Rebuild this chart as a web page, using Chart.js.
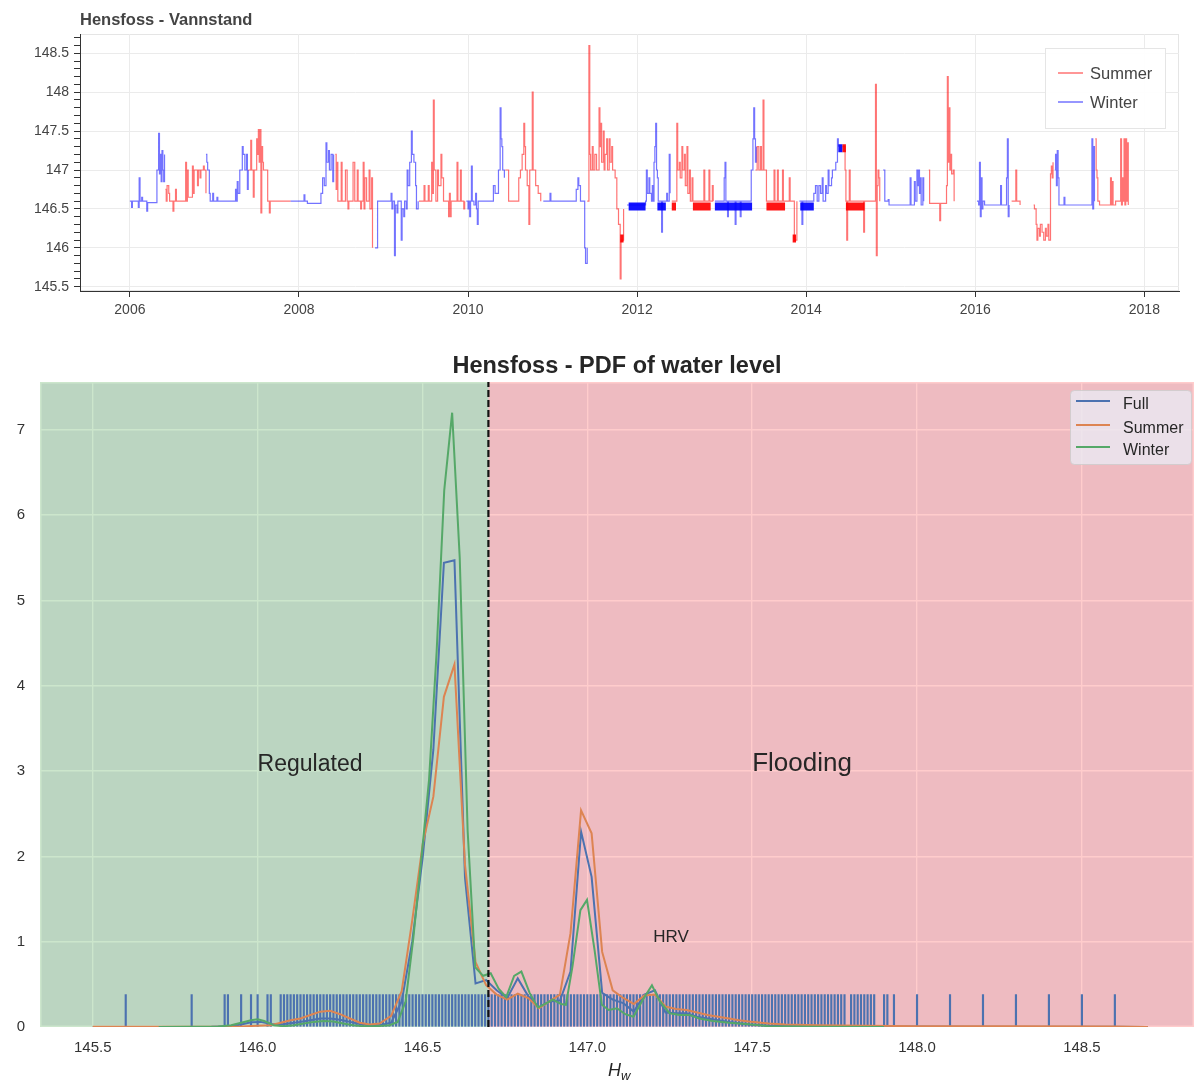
<!DOCTYPE html>
<html>
<head>
<meta charset="utf-8">
<title>Hensfoss - Vannstand</title>
<script src="https://cdn.jsdelivr.net/npm/chart.js@4.4.1/dist/chart.umd.min.js"></script>
<style>
  html, body { margin: 0; padding: 0; background: #fff; }
  canvas { display: block; }
</style>
</head>
<body>
<canvas id="levelChart" width="1194" height="340"></canvas>
<canvas id="pdfChart" width="1194" height="741"></canvas>
<script>
/* ---- water level time series (decimal year, level in m) ---- */

const summerLevel = [
  [2006.42, 146.75], [2006.43, 146.60], [2006.44, 146.80], [2006.46, 146.70], [2006.47, 146.60], [2006.51, 146.47],
  [2006.52, 146.60], [2006.54, 146.75], [2006.55, 146.60], [2006.66, 147.10], [2006.67, 146.60], [2006.68, 147.00],
  [2006.69, 146.65], [2006.74, 147.05], [2006.75, 146.70], [2006.76, 147.00], [2006.80, 146.80], [2006.81, 147.00],
  [2006.83, 146.90], [2006.84, 147.00], [2006.87, 147.05], [2006.88, 147.00], [2006.90, 146.70], [2006.91, null],

  [2007.40, 147.00], [2007.43, 147.38], [2007.44, 147.00], [2007.46, 146.65], [2007.47, 147.00], [2007.50, 147.40],
  [2007.51, 147.20], [2007.52, 147.52], [2007.53, 147.10], [2007.54, 147.52], [2007.55, 146.45], [2007.56, 147.30],
  [2007.57, 147.10], [2007.58, 147.00], [2007.62, 147.00], [2007.63, 146.60], [2007.65, 146.45], [2007.66, 146.60],
  [2007.90, 146.60], [2007.91, null],

  [2008.43, 147.20], [2008.44, 146.75], [2008.45, 147.10], [2008.46, 146.60], [2008.50, 147.10], [2008.51, 146.60],
  [2008.55, 147.00], [2008.57, 146.60], [2008.58, 146.50], [2008.59, 146.60], [2008.64, 147.10], [2008.66, 146.60],
  [2008.69, 147.00], [2008.70, 146.60], [2008.73, 146.50], [2008.74, 146.60], [2008.76, 147.10], [2008.77, 146.50],
  [2008.78, 146.90], [2008.80, 146.60], [2008.83, 147.00], [2008.84, 146.50], [2008.86, 146.90], [2008.87, 146.00],
  [2008.91, null],

  [2009.42, 146.60], [2009.48, 146.80], [2009.49, 146.60], [2009.53, 146.80], [2009.54, 146.60], [2009.57, 147.10],
  [2009.58, 146.70], [2009.59, 147.90], [2009.60, 147.00], [2009.62, 146.60], [2009.64, 147.00], [2009.65, 146.80],
  [2009.68, 147.20], [2009.69, 146.90], [2009.71, 146.60], [2009.77, 146.40], [2009.78, 146.70], [2009.79, 146.40],
  [2009.80, 146.60], [2009.87, 147.10], [2009.88, 146.60], [2009.91, 147.00], [2009.92, 146.60], [2009.95, 146.50],
  [2009.96, 146.60], [2009.99, null],

  [2010.44, 147.00], [2010.48, 146.60], [2010.60, 146.90], [2010.62, 147.00], [2010.64, 147.20], [2010.66, 147.60],
  [2010.67, 147.30], [2010.68, 147.00], [2010.70, 146.80], [2010.72, 146.30], [2010.73, 147.00], [2010.76, 148.00],
  [2010.77, 147.00], [2010.80, 146.80], [2010.83, 146.70], [2010.86, 146.60], [2010.89, null],

  [2011.41, 146.60], [2011.43, 148.60], [2011.44, 147.20], [2011.45, 147.00], [2011.47, 147.30], [2011.48, 147.00],
  [2011.50, 147.20], [2011.52, 147.00], [2011.55, 147.80], [2011.56, 147.30], [2011.57, 147.60], [2011.58, 147.10],
  [2011.60, 147.50], [2011.61, 147.00], [2011.62, 147.20], [2011.64, 147.40], [2011.65, 147.00], [2011.67, 147.40],
  [2011.68, 147.10], [2011.70, 147.30], [2011.71, 147.00], [2011.74, 146.90], [2011.76, 146.50], [2011.78, 146.30],
  [2011.80, 145.60], [2011.81, 146.10], [2011.84, 146.50], [2011.87, null],

  [2012.41, 146.60], [2012.47, 147.60], [2012.48, 147.00], [2012.50, 147.10], [2012.51, 146.90], [2012.53, 147.30],
  [2012.54, 147.00], [2012.56, 147.20], [2012.57, 146.80], [2012.59, 147.30], [2012.60, 146.70], [2012.62, 147.00],
  [2012.63, 146.60], [2012.65, 146.90], [2012.66, 146.60], [2012.79, 147.00], [2012.80, 146.60], [2012.85, 147.00],
  [2012.86, 146.60], [2012.89, 146.80], [2012.90, 146.60], [2012.92, null],

  [2013.40, 147.00], [2013.42, 147.30], [2013.44, 147.00], [2013.46, 147.30], [2013.47, 147.00], [2013.49, 147.90],
  [2013.50, 147.00], [2013.53, 146.60], [2013.62, 147.00], [2013.63, 146.60], [2013.66, 147.00], [2013.67, 146.60],
  [2013.72, 147.00], [2013.73, 146.60], [2013.80, 146.90], [2013.81, 146.60], [2013.86, 146.10], [2013.89, 146.60],
  [2013.90, null],

  [2014.43, 147.30], [2014.46, 147.00], [2014.47, 146.60], [2014.48, 146.10], [2014.49, 146.60], [2014.51, 147.00],
  [2014.52, 146.60], [2014.68, 146.20], [2014.69, 146.60], [2014.80, 146.60], [2014.82, 148.10], [2014.83, 145.90],
  [2014.84, 146.80], [2014.85, 147.00], [2014.86, 146.90], [2014.87, 146.60], [2014.91, null],

  [2015.45, 147.00], [2015.46, 146.57], [2015.58, 146.35], [2015.59, 146.57], [2015.66, 146.80], [2015.67, 148.20],
  [2015.68, 147.10], [2015.69, 147.80], [2015.70, 147.00], [2015.71, 147.20], [2015.72, 146.95], [2015.74, 147.00],
  [2015.75, 146.60], [2015.98, null],

  [2016.43, 146.60], [2016.48, 147.00], [2016.49, 146.60], [2016.53, 146.55], [2016.55, null],
  [2016.59, 146.55], [2016.60, null], [2016.64, 146.55], [2016.65, null],
  [2016.69, 146.55], [2016.70, 146.50], [2016.72, 146.30], [2016.73, 146.10], [2016.74, 146.25], [2016.76, 146.15],
  [2016.77, 146.30], [2016.79, 146.20], [2016.81, 146.10], [2016.83, 146.25], [2016.84, 146.15], [2016.86, 146.30],
  [2016.87, 146.10], [2016.89, 146.95], [2016.90, 147.05], [2016.91, 146.90], [2016.92, 147.10], [2016.94, null],

  [2017.42, 147.40], [2017.43, 147.00], [2017.44, 146.90], [2017.45, 146.60], [2017.47, 146.55], [2017.60, 146.90],
  [2017.61, 146.55], [2017.62, 146.85], [2017.63, 146.55], [2017.66, 146.60], [2017.72, 147.40], [2017.73, 146.55],
  [2017.74, 146.90], [2017.75, 146.60], [2017.76, 147.40], [2017.77, 146.55], [2017.78, 147.40], [2017.79, 146.60],
  [2017.80, 147.35], [2017.81, 146.55], [2017.82, null]
];

const winterLevel = [
  [2006.00, 146.60], [2006.02, 146.52], [2006.03, 146.60], [2006.10, 146.52], [2006.11, 146.90], [2006.12, 146.60],
  [2006.14, 146.65], [2006.15, 146.60], [2006.20, 146.47], [2006.21, 146.58], [2006.32, 147.00], [2006.34, 147.47],
  [2006.35, 146.95], [2006.36, 147.20], [2006.37, 146.85], [2006.38, 147.25], [2006.39, 147.00], [2006.40, 146.85],
  [2006.41, 147.20], [2006.42, null],

  [2006.90, 147.20], [2006.91, 147.10], [2006.92, 147.00], [2006.94, 146.70], [2006.95, 146.60], [2006.98, 146.70],
  [2006.99, 146.60], [2007.03, 146.65], [2007.04, 146.60], [2007.25, 146.75], [2007.26, 146.60], [2007.27, 146.85],
  [2007.28, 146.70], [2007.30, 147.00], [2007.33, 147.30], [2007.34, 147.20], [2007.36, 147.00], [2007.38, 147.20],
  [2007.39, 146.75], [2007.40, 147.00], [2007.42, null],

  [2007.90, 146.60], [2008.06, 146.68], [2008.07, 146.60], [2008.10, 146.57], [2008.25, 146.57], [2008.26, 146.70],
  [2008.28, 146.90], [2008.30, 146.80], [2008.32, 147.35], [2008.33, 147.10], [2008.35, 147.25], [2008.36, 147.00],
  [2008.38, 147.20], [2008.40, 146.85], [2008.41, 147.20], [2008.44, null],

  [2008.90, 146.00], [2008.93, 146.60], [2009.09, 146.70], [2009.10, 146.50], [2009.11, 146.60], [2009.13, 145.90],
  [2009.14, 146.55], [2009.16, 146.45], [2009.17, 146.60], [2009.21, 146.10], [2009.22, 146.50], [2009.24, 146.40],
  [2009.25, 146.60], [2009.27, 146.50], [2009.28, 147.00], [2009.29, 146.80], [2009.31, 147.10], [2009.33, 147.50],
  [2009.34, 147.20], [2009.36, 147.10], [2009.38, 146.80], [2009.39, 146.50], [2009.41, 146.60], [2009.43, null],

  [2009.98, 146.60], [2010.00, 146.50], [2010.01, 146.60], [2010.02, 146.40], [2010.03, 146.60], [2010.04, 147.05],
  [2010.05, 146.60], [2010.07, 146.55], [2010.09, 146.70], [2010.10, 146.50], [2010.11, 146.30], [2010.12, 146.60],
  [2010.30, 146.80], [2010.32, 146.70], [2010.36, 147.00], [2010.38, 147.80], [2010.39, 147.40], [2010.40, 147.30],
  [2010.41, 147.00], [2010.43, 146.90], [2010.44, null],

  [2010.89, 146.60], [2010.97, 146.70], [2010.98, 146.60], [2011.28, 146.75], [2011.30, 146.90], [2011.31, 146.80],
  [2011.33, 146.60], [2011.38, 146.00], [2011.39, 145.80], [2011.41, 146.00], [2011.42, null],

  [2011.88, 146.55], [2012.10, 146.60], [2012.11, 147.00], [2012.12, 146.70], [2012.14, 146.90], [2012.15, 146.70],
  [2012.17, 146.60], [2012.18, 146.80], [2012.19, 146.60], [2012.20, 147.10], [2012.21, 147.30], [2012.22, 147.60],
  [2012.23, 147.00], [2012.24, 146.90], [2012.25, 146.60], [2012.29, 146.20], [2012.30, 146.60], [2012.35, 146.70],
  [2012.36, 146.60], [2012.38, 147.20], [2012.39, 146.70], [2012.41, null],

  [2012.92, 146.60], [2013.03, 146.90], [2013.04, 147.10], [2013.05, 146.60], [2013.07, 146.40], [2013.08, 146.60],
  [2013.16, 146.30], [2013.17, 146.60], [2013.22, 146.40], [2013.23, 146.60], [2013.35, 147.00], [2013.37, 147.40],
  [2013.38, 147.80], [2013.39, 147.40], [2013.40, 147.10], [2013.41, 147.30], [2013.42, null],

  [2013.92, 146.60], [2013.95, 146.30], [2013.96, 146.60], [2014.09, 146.70], [2014.11, 146.80], [2014.13, 146.60],
  [2014.15, 146.80], [2014.17, 146.70], [2014.19, 146.90], [2014.20, 146.60], [2014.23, 146.80], [2014.24, 146.70],
  [2014.26, 147.00], [2014.27, 146.80], [2014.30, 146.90], [2014.31, 147.00], [2014.35, 147.10], [2014.37, 147.40],
  [2014.38, 147.30], [2014.44, null],

  [2014.91, 147.00], [2014.93, 146.60], [2014.97, 146.62], [2014.98, 146.55], [2015.23, 146.90], [2015.24, 146.55],
  [2015.28, 146.85], [2015.29, 146.60], [2015.31, 147.00], [2015.32, 146.80], [2015.33, 147.00], [2015.34, 146.70],
  [2015.35, 146.90], [2015.36, 146.55], [2015.38, 146.90], [2015.39, 146.60], [2015.42, null],

  [2016.02, 146.60], [2016.04, 146.55], [2016.05, 147.10], [2016.06, 146.40], [2016.07, 146.90], [2016.08, 146.50],
  [2016.09, 146.60], [2016.11, 146.55], [2016.30, 146.80], [2016.31, 146.55], [2016.37, 146.90], [2016.38, 147.40],
  [2016.39, 146.40], [2016.40, 146.55], [2016.42, null],

  [2016.94, 147.00], [2016.95, 147.20], [2016.96, 146.80], [2016.97, 147.25], [2016.98, 146.90], [2016.99, 146.55],
  [2017.05, 146.65], [2017.06, 146.55], [2017.38, 147.40], [2017.39, 146.50], [2017.40, 147.30], [2017.41, 146.60],
  [2017.42, null]
];

// periods where the level flickers between two readings (start, end, level)
const summerDense = [
  [2011.80, 2011.84, 146.12], [2012.41, 2012.46, 146.53], [2012.66, 2012.87, 146.53], [2013.53, 2013.75, 146.53],
  [2013.84, 2013.88, 146.12], [2014.43, 2014.47, 147.28], [2014.47, 2014.69, 146.53]
];
const winterDense = [
  [2011.90, 2012.10, 146.53], [2012.24, 2012.34, 146.53], [2012.92, 2013.36, 146.53], [2013.93, 2014.09, 146.53],
  [2014.38, 2014.43, 147.28]
];

const yearTicks = [2006, 2008, 2010, 2012, 2014, 2016, 2018];
const levelLabels = [145.5, 146, 146.5, 147, 147.5, 148, 148.5];

/* ---- PDF of water level (H, density) ---- */

const fullKde = [
  [145.50, 0], [145.70, 0], [145.86, 0.003], [145.92, 0.01], [145.95, 0.03], [145.98, 0.055], [146.01, 0.06],
  [146.04, 0.035], [146.07, 0.03], [146.10, 0.045], [146.13, 0.06], [146.16, 0.08], [146.19, 0.10], [146.22, 0.10],
  [146.25, 0.085], [146.28, 0.06], [146.31, 0.035], [146.34, 0.02], [146.37, 0.02], [146.405, 0.05], [146.437, 0.30],
  [146.469, 1.00], [146.501, 2.00], [146.533, 3.25], [146.565, 5.44], [146.597, 5.47], [146.629, 1.75], [146.661, 0.51],
  [146.693, 0.55], [146.725, 0.43], [146.757, 0.34], [146.789, 0.57], [146.821, 0.36], [146.853, 0.23], [146.885, 0.30],
  [146.917, 0.31], [146.949, 0.65], [146.981, 2.29], [147.013, 1.76], [147.045, 0.40], [147.077, 0.32], [147.109, 0.28],
  [147.141, 0.18], [147.173, 0.38], [147.205, 0.43], [147.237, 0.17], [147.269, 0.16], [147.301, 0.16], [147.333, 0.12],
  [147.365, 0.10], [147.397, 0.08], [147.43, 0.06], [147.46, 0.045], [147.49, 0.03], [147.55, 0.015], [147.65, 0.01],
  [147.80, 0.008], [148.00, 0.005], [148.30, 0.003], [148.60, 0.002], [148.70, 0]
];

const summerKde = [
  [145.50, 0.004], [145.80, 0.004], [145.95, 0.006], [146.00, 0.015], [146.04, 0.02], [146.07, 0.05], [146.10, 0.08],
  [146.13, 0.10], [146.16, 0.14], [146.19, 0.18], [146.22, 0.19], [146.25, 0.15], [146.28, 0.10], [146.31, 0.05],
  [146.34, 0.03], [146.37, 0.04], [146.405, 0.13], [146.437, 0.42], [146.469, 1.25], [146.501, 2.15], [146.533, 2.70],
  [146.565, 3.87], [146.597, 4.25], [146.629, 1.90], [146.661, 0.76], [146.693, 0.49], [146.725, 0.38], [146.757, 0.32],
  [146.789, 0.39], [146.821, 0.34], [146.853, 0.22], [146.885, 0.30], [146.917, 0.38], [146.949, 1.10], [146.981, 2.54],
  [147.013, 2.27], [147.045, 0.88], [147.077, 0.43], [147.109, 0.34], [147.141, 0.27], [147.173, 0.37], [147.205, 0.38],
  [147.237, 0.24], [147.269, 0.21], [147.301, 0.20], [147.333, 0.17], [147.365, 0.14], [147.397, 0.12], [147.43, 0.10],
  [147.46, 0.08], [147.49, 0.065], [147.55, 0.04], [147.60, 0.03], [147.70, 0.02], [147.85, 0.015], [148.00, 0.01],
  [148.30, 0.008], [148.60, 0.006], [148.70, 0]
];

const winterKde = [
  [145.70, 0], [145.88, 0.005], [145.92, 0.02], [145.95, 0.05], [145.98, 0.08], [146.00, 0.09], [146.02, 0.07],
  [146.05, 0.02], [146.08, 0.01], [146.11, 0.02], [146.14, 0.04], [146.17, 0.06], [146.20, 0.07], [146.23, 0.065],
  [146.26, 0.04], [146.29, 0.02], [146.32, 0.01], [146.36, 0.01], [146.40, 0.02], [146.425, 0.06], [146.449, 0.30],
  [146.4725, 1.05], [146.496, 1.95], [146.52, 2.90], [146.543, 4.40], [146.566, 6.29], [146.590, 7.20], [146.613, 5.50],
  [146.637, 2.30], [146.66, 0.70], [146.684, 0.60], [146.707, 0.63], [146.731, 0.45], [146.754, 0.35], [146.778, 0.60],
  [146.80, 0.65], [146.825, 0.40], [146.85, 0.23], [146.872, 0.27], [146.895, 0.32], [146.92, 0.27], [146.935, 0.26],
  [146.955, 0.71], [146.979, 1.37], [146.999, 1.49], [147.022, 0.90], [147.044, 0.26], [147.065, 0.20], [147.09, 0.22],
  [147.115, 0.15], [147.14, 0.12], [147.17, 0.33], [147.196, 0.49], [147.22, 0.30], [147.25, 0.16], [147.28, 0.14],
  [147.31, 0.14], [147.34, 0.10], [147.38, 0.07], [147.43, 0.05], [147.48, 0.035], [147.55, 0.01], [147.70, 0.004],
  [147.90, 0]
];

// observed levels (rug)
const rugValues = [
  145.60, 145.80, 145.90, 145.91, 145.95, 145.98, 146.00, 146.03, 146.04,
  146.07, 146.08, 146.09, 146.10, 146.11, 146.12, 146.13, 146.14, 146.15, 146.16, 146.17, 146.18, 146.19,
  146.20, 146.21, 146.22, 146.23, 146.24, 146.25, 146.26, 146.27, 146.28, 146.29, 146.30, 146.31, 146.32,
  146.33, 146.34, 146.35, 146.36, 146.37, 146.38, 146.39, 146.40, 146.41, 146.42, 146.43, 146.44, 146.45,
  146.46, 146.47, 146.48, 146.49, 146.50, 146.51, 146.52, 146.53, 146.54, 146.55, 146.56, 146.57,
  146.58, 146.59, 146.60, 146.61, 146.62, 146.63, 146.64, 146.65, 146.66, 146.67, 146.68, 146.69,
  146.70, 146.71, 146.72, 146.73, 146.74, 146.75, 146.76, 146.77, 146.78, 146.79, 146.80, 146.81,
  146.82, 146.83, 146.84, 146.85, 146.86, 146.87, 146.88, 146.89, 146.90, 146.91, 146.92, 146.93,
  146.94, 146.95, 146.96, 146.97, 146.98, 146.99, 147.00, 147.01, 147.02, 147.03, 147.04, 147.05,
  147.06, 147.07, 147.08, 147.09, 147.10, 147.11, 147.12, 147.13, 147.14, 147.15, 147.16, 147.17,
  147.18, 147.19, 147.20, 147.21, 147.22, 147.23, 147.24, 147.25, 147.26, 147.27, 147.28, 147.29,
  147.30, 147.31, 147.32, 147.33, 147.34, 147.35, 147.36, 147.37, 147.38, 147.39, 147.40, 147.41,
  147.42, 147.43, 147.44, 147.45, 147.46, 147.47, 147.48, 147.49, 147.50, 147.51, 147.52, 147.53,
  147.54, 147.55, 147.56, 147.57, 147.58, 147.59, 147.60, 147.61, 147.62, 147.63, 147.64, 147.65, 147.66, 147.67,
  147.68, 147.69, 147.70, 147.71, 147.72, 147.73, 147.74, 147.75, 147.76, 147.77, 147.78, 147.80, 147.81,
  147.82, 147.83, 147.84, 147.85, 147.86, 147.87,
  147.90, 147.91, 147.93, 148.00, 148.10, 148.20, 148.30, 148.40, 148.50, 148.60
];

const threshold = 146.7;
const pdfTicksX = [145.5, 146.0, 146.5, 147.0, 147.5, 148.0, 148.5];
const pdfTicksY = [0, 1, 2, 3, 4, 5, 6, 7];
const zoneLabels = [
  { text: 'Regulated', x: 146.0, y: 3.0, size: 23 },
  { text: 'Flooding', x: 147.5, y: 3.0, size: 26 },
  { text: 'HRV', x: 147.2, y: 1.0, size: 17 }
];

/* ---- helpers ---- */

const fontFamily = "'Liberation Sans', Arial, Helvetica, sans-serif";
Chart.defaults.font.family = fontFamily;

function toXY(pairs) {
  return pairs.map(p => ({ x: p[0], y: p[1] }));
}

function denseToXY(list) {
  const out = [];
  list.forEach(b => {
    out.push({ x: b[0], y: b[2] }, { x: b[1], y: b[2] }, { x: b[1], y: null });
  });
  return out;
}

function roundRect(ctx, x, y, w, h, r) {
  ctx.beginPath();
  ctx.moveTo(x + r, y);
  ctx.lineTo(x + w - r, y);
  ctx.arcTo(x + w, y, x + w, y + r, r);
  ctx.lineTo(x + w, y + h - r);
  ctx.arcTo(x + w, y + h, x + w - r, y + h, r);
  ctx.lineTo(x + r, y + h);
  ctx.arcTo(x, y + h, x, y + h - r, r);
  ctx.lineTo(x, y + r);
  ctx.arcTo(x, y, x + r, y, r);
  ctx.closePath();
}

/* ---- top chart : Vannstand ---- */

const levelDecor = {
  id: 'levelDecor',
  beforeDraw(chart) {
    const { ctx, chartArea: a } = chart;
    ctx.save();
    ctx.fillStyle = '#fff';
    ctx.fillRect(0, 0, chart.width, chart.height);
    ctx.strokeStyle = '#e5e5e5';
    ctx.lineWidth = 1;
    ctx.strokeRect(a.left + 0.5, a.top + 0.5, a.right - a.left - 1, a.bottom - a.top - 1);
    ctx.restore();
  },
  afterDraw(chart) {
    const ctx = chart.ctx;
    ctx.save();
    ctx.fillStyle = '#444';
    ctx.font = 'bold 16.5px ' + fontFamily;
    ctx.textBaseline = 'alphabetic';
    ctx.fillText('Hensfoss - Vannstand', 80, 25);

    // legend
    ctx.fillStyle = 'rgba(255,255,255,0.95)';
    ctx.fillRect(1045, 48, 120, 80);
    ctx.strokeStyle = '#e5e5e5';
    ctx.lineWidth = 1;
    ctx.strokeRect(1045.5, 48.5, 120, 80);
    const rows = [73, 102];
    chart.data.datasets.slice(0, 2).forEach((ds, i) => {
      ctx.strokeStyle = ds.borderColor;
      ctx.lineWidth = 1.5;
      ctx.beginPath();
      ctx.moveTo(1058, rows[i]);
      ctx.lineTo(1083, rows[i]);
      ctx.stroke();
      ctx.fillStyle = '#444';
      ctx.font = '16.5px ' + fontFamily;
      ctx.fillText(ds.label, 1090, rows[i] + 6);
    });
    ctx.restore();
  }
};

const isLevelLabel = v => levelLabels.some(l => Math.abs(l - v) < 1e-6);

new Chart(document.getElementById('levelChart'), {
  type: 'line',
  data: {
    datasets: [
      { label: 'Summer', data: toXY(summerLevel), borderColor: 'rgba(255,0,0,0.55)', borderWidth: 1.2,
        stepped: true, pointRadius: 0, spanGaps: false },
      { label: 'Winter', data: toXY(winterLevel), borderColor: 'rgba(0,0,255,0.55)', borderWidth: 1.2,
        stepped: true, pointRadius: 0, spanGaps: false },
      { label: 'Summer dense', data: denseToXY(summerDense), borderColor: 'rgba(255,0,0,0.92)', borderWidth: 8,
        borderCapStyle: 'butt', pointRadius: 0 },
      { label: 'Winter dense', data: denseToXY(winterDense), borderColor: 'rgba(0,0,255,0.92)', borderWidth: 8,
        borderCapStyle: 'butt', pointRadius: 0 }
    ]
  },
  options: {
    responsive: false,
    animation: false,
    events: [],
    layout: { padding: { top: 34, right: 15, left: 0, bottom: 0 } },
    plugins: { legend: { display: false }, tooltip: { enabled: false } },
    scales: {
      x: {
        type: 'linear',
        min: 2005.41,
        max: 2018.41,
        afterBuildTicks: s => { s.ticks = yearTicks.map(v => ({ value: v })); },
        afterFit: s => { s.height = 49; },
        grid: { color: '#ebebeb', tickColor: '#333', tickLength: 6 },
        border: { color: '#333', width: 1 },
        ticks: { callback: v => String(v), color: '#444', font: { size: 14 }, padding: 5, maxRotation: 0, autoSkip: false }
      },
      y: {
        type: 'linear',
        min: 145.445,
        max: 148.748,
        afterBuildTicks: s => {
          const t = [];
          for (let k = 1455; k <= 1487; k++) t.push({ value: k / 10 });
          s.ticks = t;
        },
        afterFit: s => { s.width = 80; },
        grid: {
          color: c => (c.tick && isLevelLabel(c.tick.value) ? '#ebebeb' : 'rgba(0,0,0,0)'),
          tickColor: '#333',
          tickLength: 6
        },
        border: { color: '#333', width: 1 },
        ticks: {
          callback: v => (isLevelLabel(v) ? String(+v.toFixed(1)) : ''),
          color: '#444', font: { size: 14 }, padding: 5, autoSkip: false
        }
      }
    }
  },
  plugins: [levelDecor]
});

/* ---- bottom chart : PDF of water level ---- */

const rugHeight = 0.38;
const pdfYMax = 7.56;

const pdfDecor = {
  id: 'pdfDecor',
  beforeDraw(chart) {
    const { ctx, chartArea: a } = chart;
    ctx.save();
    ctx.fillStyle = '#fff';
    ctx.fillRect(0, 0, chart.width, chart.height);
    ctx.fillStyle = '#EAEAF2';
    ctx.fillRect(a.left, a.top, a.right - a.left, a.bottom - a.top);
    ctx.restore();
  },
  beforeDatasetsDraw(chart) {
    const { ctx, chartArea: a, scales } = chart;
    const xt = scales.x.getPixelForValue(threshold);
    ctx.save();
    ctx.strokeStyle = '#fff';
    ctx.lineWidth = 1.5;
    ctx.strokeRect(a.left + 0.75, a.top + 0.75, a.right - a.left - 1.5, a.bottom - a.top - 1.5);
    ctx.fillStyle = 'rgba(0,128,0,0.2)';
    ctx.fillRect(a.left, a.top, xt - a.left, a.bottom - a.top);
    ctx.fillStyle = 'rgba(255,0,0,0.2)';
    ctx.fillRect(xt, a.top, a.right - xt, a.bottom - a.top);
    ctx.restore();
  },
  afterDatasetsDraw(chart) {
    const { ctx, scales } = chart;
    ctx.save();
    ctx.fillStyle = '#262626';
    ctx.textBaseline = 'alphabetic';
    ctx.textAlign = 'left';
    zoneLabels.forEach(l => {
      ctx.font = l.size + 'px ' + fontFamily;
      ctx.fillText(l.text, scales.x.getPixelForValue(l.x), scales.y.getPixelForValue(l.y));
    });
    ctx.restore();
  },
  afterDraw(chart) {
    const { ctx, chartArea: a } = chart;
    ctx.save();
    // title
    ctx.fillStyle = '#262626';
    ctx.font = 'bold 23.5px ' + fontFamily;
    ctx.textAlign = 'center';
    ctx.textBaseline = 'alphabetic';
    ctx.fillText('Hensfoss - PDF of water level', (a.left + a.right) / 2, 33);

    // x label H_w
    ctx.textAlign = 'left';
    ctx.font = 'italic 18px ' + fontFamily;
    ctx.fillText('H', 608, 736);
    ctx.font = 'italic 13px ' + fontFamily;
    ctx.fillText('w', 621, 740);

    // legend
    roundRect(ctx, 1070.5, 50.5, 121, 74, 4);
    ctx.fillStyle = 'rgba(234,234,242,0.8)';
    ctx.fill();
    ctx.strokeStyle = 'rgba(204,204,204,0.8)';
    ctx.lineWidth = 1;
    ctx.stroke();
    const items = chart.data.datasets.filter(d => d.showInLegend);
    const rows = [61, 85, 107];
    items.forEach((ds, i) => {
      ctx.strokeStyle = ds.borderColor;
      ctx.lineWidth = 2.2;
      ctx.beginPath();
      ctx.moveTo(1076, rows[i]);
      ctx.lineTo(1110, rows[i]);
      ctx.stroke();
      ctx.fillStyle = '#262626';
      ctx.font = '16px ' + fontFamily;
      ctx.fillText(ds.label, 1123, rows[i] + 8);
    });
    ctx.restore();
  }
};

new Chart(document.getElementById('pdfChart'), {
  type: 'line',
  data: {
    datasets: [
      { type: 'bar', label: 'rug', data: rugValues.map(v => ({ x: v, y: rugHeight })),
        backgroundColor: '#4C72B0', barThickness: 1.5, order: 5 },
      { label: 'Full', data: toXY(fullKde), borderColor: '#4C72B0', borderWidth: 2, pointRadius: 0, order: 3, showInLegend: true },
      { label: 'Summer', data: toXY(summerKde), borderColor: '#DD8452', borderWidth: 2, pointRadius: 0, order: 2, showInLegend: true },
      { label: 'Winter', data: toXY(winterKde), borderColor: '#55A868', borderWidth: 2, pointRadius: 0, order: 1, showInLegend: true },
      { label: 'threshold', data: [{ x: threshold, y: 0 }, { x: threshold, y: pdfYMax }], borderColor: '#111',
        borderWidth: 2.2, borderDash: [7, 3], pointRadius: 0, order: 0 }
    ]
  },
  options: {
    responsive: false,
    animation: false,
    events: [],
    layout: { padding: { top: 42, right: 0, left: 0, bottom: 0 } },
    plugins: { legend: { display: false }, tooltip: { enabled: false } },
    scales: {
      x: {
        type: 'linear',
        offset: false,
        min: 145.34,
        max: 148.84,
        afterBuildTicks: s => { s.ticks = pdfTicksX.map(v => ({ value: v })); },
        afterFit: s => { s.height = 54; },
        grid: { color: '#fff', lineWidth: 1.4, drawTicks: false, offset: false },
        border: { display: false },
        ticks: { callback: v => v.toFixed(1), color: '#333', font: { size: 15 }, padding: 12, maxRotation: 0, autoSkip: false }
      },
      y: {
        type: 'linear',
        min: 0,
        max: pdfYMax,
        afterBuildTicks: s => { s.ticks = pdfTicksY.map(v => ({ value: v })); },
        afterFit: s => { s.width = 40; },
        grid: { color: '#fff', lineWidth: 1.4, drawTicks: false },
        border: { display: false },
        ticks: { callback: v => String(v), color: '#333', font: { size: 15 }, padding: 15, autoSkip: false }
      }
    }
  },
  plugins: [pdfDecor]
});
</script>
</body>
</html>
